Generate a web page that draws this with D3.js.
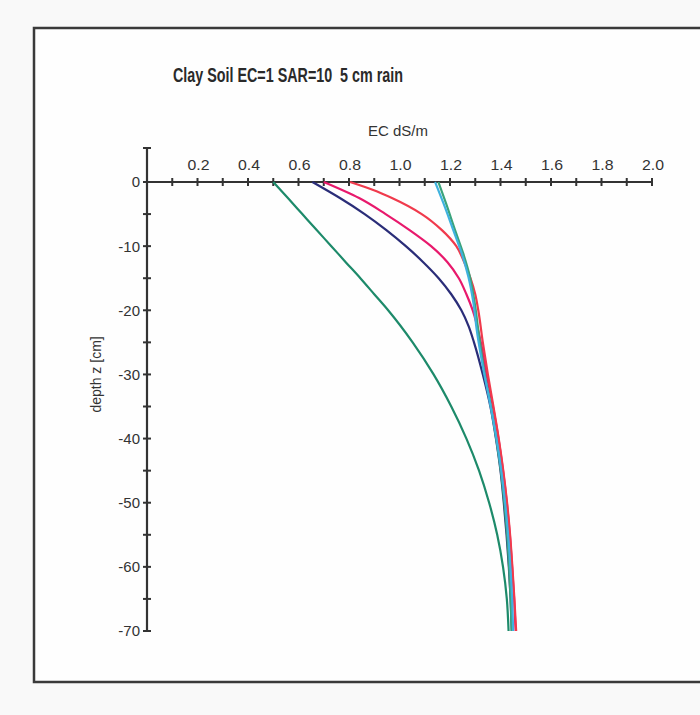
<!DOCTYPE html>
<html>
<head>
<meta charset="utf-8">
<script src="https://cdn.jsdelivr.net/npm/d3@7"></script>
<style>
  html, body { margin: 0; padding: 0; background: #f9f9f9; }
  svg { display: block; }
  text { font-family: "Liberation Sans", Arial, sans-serif; fill: #333; }
</style>
</head>
<body>
<svg id="chart" width="700" height="715"></svg>
<script>
// ---- data ----
const title = "Clay Soil EC=1 SAR=10  5 cm rain";
const xLabel = "EC dS/m";
const yLabel = "depth z [cm]";
const xTickValues = [0.2, 0.4, 0.6, 0.8, 1.0, 1.2, 1.4, 1.6, 1.8, 2.0];
const yTickValues = [0, -10, -20, -30, -40, -50, -60, -70];

const seriesNames = ["green", "navy", "pink", "red", "teal", "cyan"];
const seriesColors = ["#1d8a6a", "#2a2d78", "#e8196c", "#f03a4c", "#3aa37a", "#3fb2de"];

const depthGreen = [0, -2.5, -5, -7.5, -10, -12.5, -15, -17.5, -20, -25, -30, -35, -40, -45, -50, -55, -60, -65, -70];
const ecGreen    = [0.50, 0.558, 0.615, 0.672, 0.730, 0.787, 0.845, 0.900, 0.955, 1.052, 1.135, 1.205, 1.265, 1.315, 1.355, 1.387, 1.410, 1.425, 1.432];

const depthNavy = [0, -2.5, -5, -7.5, -10, -12.5, -15, -17.5, -20, -22.5, -25, -30, -35, -40, -45, -50, -55, -60, -65, -70];
const ecNavy    = [0.655, 0.764, 0.862, 0.948, 1.025, 1.094, 1.155, 1.205, 1.245, 1.274, 1.295, 1.330, 1.360, 1.382, 1.400, 1.413, 1.424, 1.433, 1.440, 1.445];

const depthPink = [0, -2.5, -5, -7.5, -10, -12.5, -15, -17.5, -20, -25, -30, -35, -40, -45, -50, -55, -60, -65, -70];
const ecPink    = [0.700, 0.840, 0.945, 1.040, 1.125, 1.190, 1.235, 1.265, 1.290, 1.322, 1.345, 1.370, 1.392, 1.410, 1.425, 1.437, 1.446, 1.454, 1.460];

const depthRed = [0, -1.25, -2.5, -5, -7.5, -10, -12.5, -15, -17.5, -20, -25, -30, -35, -40, -45, -50, -55, -60, -65, -70];
const ecRed    = [0.804, 0.896, 0.970, 1.088, 1.168, 1.225, 1.256, 1.281, 1.300, 1.312, 1.330, 1.350, 1.372, 1.393, 1.411, 1.426, 1.438, 1.447, 1.455, 1.462];

const depthTeal = [0, -3.3, -7.5, -11.1, -14.8, -18.9, -23.1, -27, -30, -35, -40, -45, -50, -55, -60, -65, -70];
const ecTeal    = [1.154, 1.184, 1.220, 1.252, 1.279, 1.298, 1.312, 1.326, 1.338, 1.362, 1.383, 1.401, 1.415, 1.426, 1.434, 1.440, 1.444];

const depthCyan = [0, -3.3, -7.5, -11.1, -14.8, -18.9, -23.1, -27, -30, -35, -40, -45, -50, -55, -60, -65, -70];
const ecCyan    = [1.141, 1.174, 1.213, 1.246, 1.273, 1.293, 1.306, 1.322, 1.336, 1.361, 1.384, 1.403, 1.418, 1.430, 1.439, 1.446, 1.450];

const seriesDepths = [depthGreen, depthNavy, depthPink, depthRed, depthTeal, depthCyan];
const seriesValues = [ecGreen, ecNavy, ecPink, ecRed, ecTeal, ecCyan];

// ---- layout ----
const svg = d3.select("#chart");
const x0 = 147, x1 = 652;   // EC 0 .. 2
const yTop = 182, yBot = 631; // depth 0 .. -70

const x = d3.scaleLinear().domain([0, 2]).range([x0, x1]);
const y = d3.scaleLinear().domain([0, -70]).range([yTop, yBot]);

// frame
svg.append("rect")
  .attr("x", 34).attr("y", 28)
  .attr("width", 720).attr("height", 654)
  .attr("fill", "#fefefe")
  .attr("stroke", "#3a3a3a").attr("stroke-width", 2.5);

// title
svg.append("text")
  .attr("x", 288).attr("y", 82)
  .attr("text-anchor", "middle")
  .attr("font-size", 20).attr("font-weight", "bold")
  .attr("textLength", 230).attr("lengthAdjust", "spacingAndGlyphs")
  .style("white-space", "pre")
  .style("fill", "#2a2a2a")
  .text(title);

// x axis (at depth 0), ticks crossing
const xAxisG = svg.append("g").attr("transform", `translate(0,${yTop})`);
xAxisG.append("line")
  .attr("x1", x0).attr("x2", x(2)).attr("y1", 0).attr("y2", 0)
  .attr("stroke", "#333").attr("stroke-width", 2.2);
const xMinor = d3.range(1, 21).map(d => d / 10);
xAxisG.selectAll("line.xt").data(xMinor).join("line")
  .attr("class", "xt")
  .attr("x1", d => x(d)).attr("x2", d => x(d))
  .attr("y1", -4).attr("y2", 4)
  .attr("stroke", "#333").attr("stroke-width", 2);
xAxisG.selectAll("text.xl").data(xTickValues).join("text")
  .attr("class", "xl")
  .attr("x", d => x(d) + 1).attr("y", -12)
  .attr("text-anchor", "middle")
  .attr("font-size", 15)
  .attr("textLength", 22).attr("lengthAdjust", "spacingAndGlyphs")
  .text(d => d.toFixed(1));

svg.append("text")
  .attr("x", 398).attr("y", 136)
  .attr("text-anchor", "middle")
  .attr("font-size", 14)
  .attr("textLength", 60).attr("lengthAdjust", "spacingAndGlyphs")
  .text(xLabel);

// y axis
const yAxisG = svg.append("g").attr("transform", `translate(${x0},0)`);
yAxisG.append("line")
  .attr("x1", 0).attr("x2", 0).attr("y1", y(5.3)).attr("y2", y(-70))
  .attr("stroke", "#333").attr("stroke-width", 2.2);
const yMinor = d3.range(5, -75, -5);
yAxisG.selectAll("line.yt").data(yMinor).join("line")
  .attr("class", "yt")
  .attr("x1", -4).attr("x2", 4)
  .attr("y1", d => y(d === 5 ? 5.3 : d)).attr("y2", d => y(d === 5 ? 5.3 : d))
  .attr("stroke", "#333").attr("stroke-width", 2);
yAxisG.selectAll("text.yl").data(yTickValues).join("text")
  .attr("class", "yl")
  .attr("x", -7).attr("y", d => y(d))
  .attr("dy", "0.36em")
  .attr("text-anchor", "end")
  .attr("font-size", 15)
  .text(d => d);

svg.append("text")
  .attr("transform", `translate(101,${y(-30)}) rotate(-90)`)
  .attr("text-anchor", "middle")
  .attr("font-size", 14)
  .text(yLabel);

// series lines
const line = d3.line()
  .x(d => x(d[1]))
  .y(d => y(d[0]))
  .curve(d3.curveMonotoneY);

seriesNames.forEach((name, i) => {
  const pts = seriesDepths[i].map((z, j) => [z, seriesValues[i][j]]);
  svg.append("path")
    .datum(pts)
    .attr("fill", "none")
    .attr("stroke", seriesColors[i])
    .attr("stroke-width", 2.2)
    .attr("stroke-linejoin", "round")
    .attr("d", line);
});
</script>
</body>
</html>
